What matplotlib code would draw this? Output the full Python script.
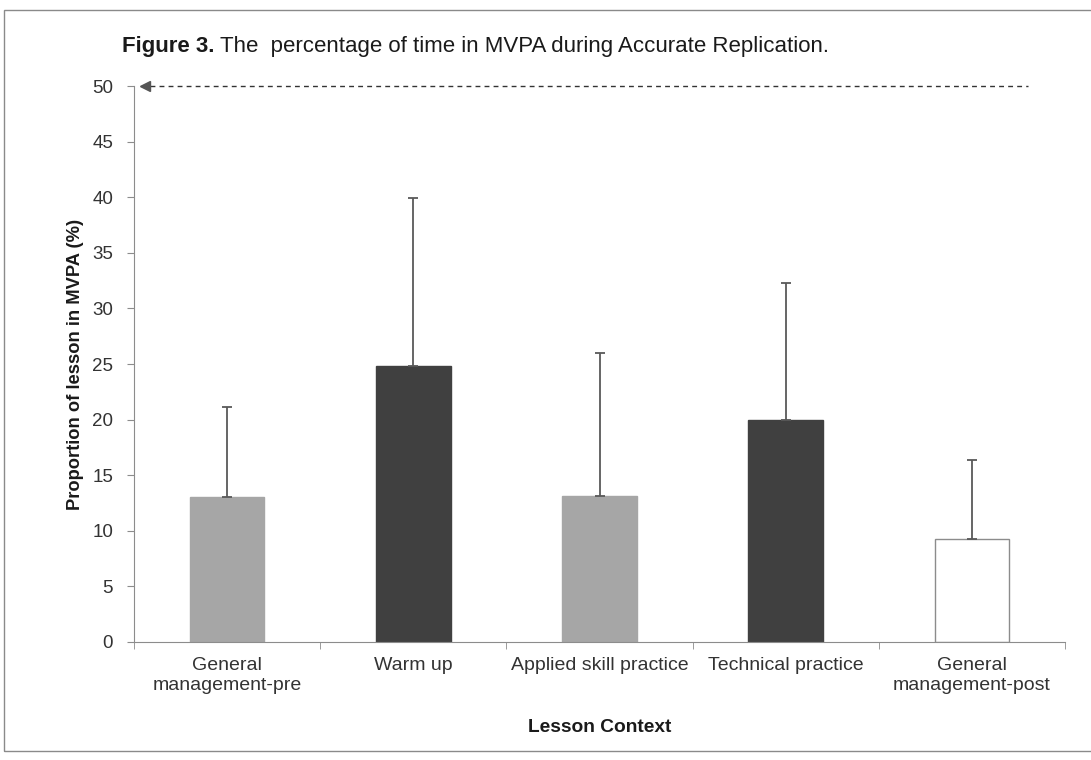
import matplotlib
matplotlib.use("Agg")
import matplotlib.pyplot as plt
from matplotlib.patches import Rectangle

plt.rcParams['font.family'] = ['Liberation Sans', 'DejaVu Sans']

categories = ["General\nmanagement-pre", "Warm up", "Applied skill practice",
              "Technical practice", "General\nmanagement-post"]
means = [13.0, 24.8, 13.1, 20.0, 9.3]
sds = [8.1, 15.1, 12.9, 12.3, 7.1]
fills = ["#a6a6a6", "#404040", "#a6a6a6", "#404040", "#ffffff"]
edges = ["#a6a6a6", "#404040", "#a6a6a6", "#404040", "#8c8c8c"]
yticks = [0, 5, 10, 15, 20, 25, 30, 35, 40, 45, 50]
reference_level = 50

fig = plt.figure(figsize=(10.91, 7.6), dpi=100)
fig.patches.append(Rectangle((0.004, 0.012), 1.2, 0.975, transform=fig.transFigure,
                             fill=False, edgecolor="#8a8a8a", linewidth=1.0))
ax = fig.add_axes([0.1228, 0.1553, 0.8534, 0.7315])

x = list(range(len(categories)))
ax.bar(x, means, width=0.40, color=fills, edgecolor=edges, linewidth=1.0, zorder=2)
ax.errorbar(x, means, yerr=[[0] * len(sds), sds], fmt="none", ecolor="#595959",
            elinewidth=1.3, capsize=3.5, capthick=1.3, zorder=3)

ax.set_xlim(-0.5, len(categories) - 0.5)
ax.set_ylim(0, 50)
ax.set_yticks(yticks)
ax.set_xticks(x)
ax.set_xticklabels(categories, fontsize=14, color="#333333", linespacing=1.25)
ax.set_xticks([i + 0.5 for i in range(-1, len(categories))], minor=True)
ax.tick_params(axis="x", which="major", length=0, pad=11)
ax.tick_params(axis="x", which="minor", length=5, color="#8c8c8c", direction="out")
ax.tick_params(axis="y", length=5, color="#8c8c8c", labelsize=13.5, labelcolor="#333333", pad=10)
for s in ["top", "right"]:
    ax.spines[s].set_visible(False)
for s in ["left", "bottom"]:
    ax.spines[s].set_color("#8c8c8c")

ax.plot([-0.46, 4.30], [reference_level, reference_level], linestyle=(0, (3.5, 3)),
        color="#333333", linewidth=1.0, clip_on=False, zorder=4)
ax.plot([-0.44], [reference_level], marker="<", markersize=7, color="#555555",
        clip_on=False, zorder=5)

ax.set_ylabel("Proportion of lesson in MVPA (%)", fontsize=13.2, fontweight="bold",
              color="#1a1a1a", labelpad=6)
ax.set_xlabel("Lesson Context", fontsize=13.8, fontweight="bold", color="#1a1a1a", labelpad=18)

t1 = fig.text(0.112, 0.932, "Figure 3.", fontsize=16, fontweight="bold", color="#1a1a1a",
              va="baseline")
fig.canvas.draw()
bb = t1.get_window_extent()
x1 = fig.transFigure.inverted().transform((bb.x1, bb.y0))[0]
fig.text(x1 + 0.005, 0.932, "The  percentage of time in MVPA during Accurate Replication.",
         fontsize=16, color="#1a1a1a", va="baseline")

fig.savefig("out.png", dpi=100)
